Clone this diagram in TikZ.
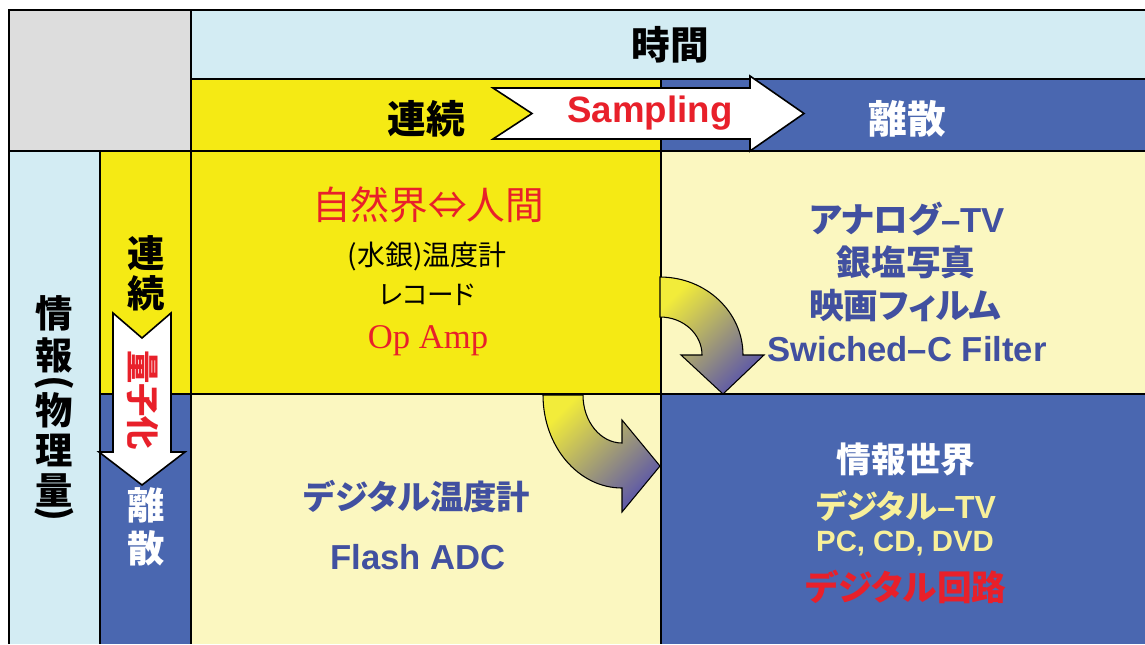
\documentclass[tikz,border=0pt]{standalone}
\usepackage{fontspec}
\setmainfont{Liberation Sans}
\newfontfamily\jp{Noto Sans CJK JP}[RawFeature=+palt]
\newfontfamily\ls{Liberation Sans}
\newfontfamily\lsr{Liberation Serif}
\definecolor{cellblue}{HTML}{4A67B0}
\definecolor{lightblue}{HTML}{D3ECF3}
\definecolor{cellgray}{HTML}{DDDDDD}
\definecolor{cellyellow}{HTML}{F5EA14}
\definecolor{paleyellow}{HTML}{FBF7C0}
\definecolor{txtblue}{HTML}{4150A0}
\definecolor{txtred}{HTML}{E8202A}
\definecolor{txtyellow}{HTML}{F8F09A}
\definecolor{gradY}{HTML}{F2EC3A}
\definecolor{gradB}{HTML}{5A55AA}
\newcommand\fsz[1]{\fontsize{#1}{#1}\selectfont}
\begin{document}
\begin{tikzpicture}[x=0.75pt,y=-0.75pt,
  gridline/.style={draw=black,line width=2pt},
  bigarrow/.style={draw=black,line width=1.2pt,fill=white,line join=miter},
  curvearrow/.style={draw=black,line width=0.8pt,top color=gradY,bottom color=gradB,shading angle=45},
  lbl/.style={inner sep=0pt,anchor=center},
  jpb/.style={lbl,font=\jp\bfseries\fsz{#1}},
  jpr/.style={lbl,font=\jp\fsz{#1}}]
\useasboundingbox (0,0) rectangle (1145,644);
\fill[white] (0,0) rectangle (1145,644);
% cells
\fill[cellgray] (9,10) rectangle (191,151);
\fill[lightblue] (191,10) rectangle (1145,79);
\fill[cellyellow] (191,79) rectangle (661,151);
\fill[cellblue] (661,79) rectangle (1145,151);
\fill[lightblue] (9,151) rectangle (100,644);
\fill[cellyellow] (100,151) rectangle (191,394);
\fill[cellblue] (100,394) rectangle (191,644);
\fill[cellyellow] (191,151) rectangle (661,394);
\fill[paleyellow] (661,151) rectangle (1145,394);
\fill[paleyellow] (191,394) rectangle (661,644);
\fill[cellblue] (661,394) rectangle (1145,644);
% grid lines
\draw[gridline] (9,644) -- (9,10) -- (1145,10);
\draw[gridline] (191,10) -- (191,644);
\draw[gridline] (661,79) -- (661,644);
\draw[gridline] (191,79) -- (1145,79);
\draw[gridline] (9,151) -- (1145,151);
\draw[gridline] (100,151) -- (100,644);
\draw[gridline] (100,394) -- (1145,394);
% Sampling arrow
\draw[bigarrow] (493,88) -- (750,88) -- (750,76) -- (804,113.5) -- (750,151) -- (750,139) -- (493,139) -- (532,113.5) -- cycle;
% quantisation arrow
\draw[bigarrow] (113,313) -- (142,338) -- (171,313) -- (171,452) -- (185,452) -- (142,485) -- (99,452) -- (113,452) -- cycle;
% curved arrows
\shade[curvearrow] (660,277) arc[start angle=-90,end angle=0,x radius=83,y radius=78]
  -- (764,355) -- (723,394) -- (681,355) -- (702,355)
  arc[start angle=0,end angle=-90,x radius=42,y radius=38] -- cycle;
\shade[curvearrow] (543,395) arc[start angle=180,end angle=90,x radius=79,y radius=93]
  -- (622,512) -- (660,466) -- (622,420) -- (622,443)
  arc[start angle=90,end angle=180,x radius=39,y radius=48] -- cycle;
% header texts
\node[jpb=29] (jikan) at (670,45) {時間};
\node[jpb=29] (renzokuH) at (426,119) {連続};
\node[jpb=29,text=white] (risanH) at (907,119) {離散};
\node[lbl,font=\ls\bfseries\fsz{27.5},text=txtred] (sampling) at (650,113) {Sampling};
% left column vertical text
\node[jpb=28] (v1) at (54,313) {情};
\node[jpb=28] (v2) at (54,355) {報};
\node[jpb=28,rotate=-90] (v3) at (54,383) {(};
\node[jpb=28] (v4) at (54,410) {物};
\node[jpb=28] (v5) at (54,450) {理};
\node[jpb=28] (v6) at (54,490) {量};
\node[jpb=28,rotate=-90] (v7) at (54,514) {)};
\node[jpb=28] (r1) at (146,253) {連};
\node[jpb=28] (r2) at (146,293) {続};
\node[jpb=28,text=white] (d1) at (146,505) {離};
\node[jpb=28,text=white] (d2) at (146,548) {散};
\node[jpb=25,text=txtred,rotate=-90] (ryoshika) at (143,400) {量子化};
% top-left cell
\node[jpr=29,text=txtred] (shizen) at (428,205) {自然界⇔人間};
\node[jpr=21] (ondokei) at (427,256) {(水銀)温度計};
\node[jpr=20] (record) at (427,295) {レコード};
\node[lbl,font=\lsr\fsz{26},text=txtred] (opamp) at (428,341) {Op Amp};
% top-right cell
\node[jpb=26,text=txtblue] (anatv) at (907,219) {アナログ{\ls\bfseries –TV}};
\node[jpb=26,text=txtblue] (ginen) at (906,262) {銀塩写真};
\node[jpb=26,text=txtblue] (eiga) at (905,306) {映画フィルム};
\node[lbl,font=\ls\bfseries\fsz{26},text=txtblue] (swc) at (907,349) {Swiched–C Filter};
% bottom-left cell
\node[jpb=25,text=txtblue] (digond) at (417,497) {デジタル温度計};
\node[lbl,font=\ls\bfseries\fsz{26},text=txtblue] (adc) at (418,557) {Flash ADC};
% bottom-right cell
\node[jpb=26,text=white] (joho) at (906,459) {情報世界};
\node[jpb=24,text=txtyellow] (digtv) at (906,506) {デジタル{\ls\bfseries –TV}};
\node[lbl,font=\ls\bfseries\fsz{22},text=txtyellow] (pc) at (905,544) {PC, CD, DVD};
\node[jpb=26,text=txtred] (digkairo) at (906,587) {デジタル回路};
\end{tikzpicture}
\end{document}
